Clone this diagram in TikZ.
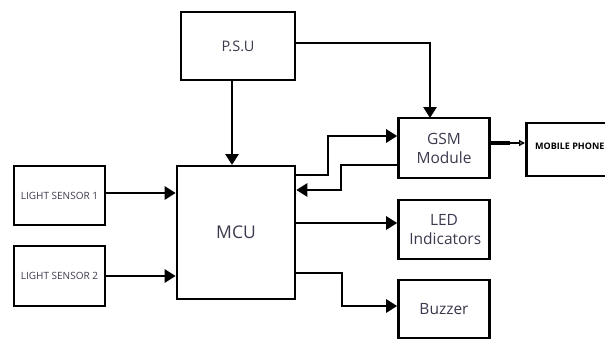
\documentclass[tikz,border=0pt]{standalone}
\usepackage{fontspec}
\setmainfont{Open Sans}
\usetikzlibrary{arrows.meta}
\definecolor{txt}{HTML}{3A3A4E}
\begin{document}
\begin{tikzpicture}[x=1pt,y=-1pt,
  blk/.style={draw=black,line width=2.6pt,rectangle,inner sep=0pt,text=txt,align=center},
  conn/.style={line width=2.6pt,-{Triangle[length=11pt,width=13pt]}}]
\useasboundingbox (0,0) rectangle (605,341);
\clip (0,0) rectangle (605,341);
\node[blk,minimum width=114pt,minimum height=68pt,font=\fontsize{14.5}{16}\selectfont] (psu) at (238,46) {P.S.U};
\node[blk,minimum width=118pt,minimum height=133pt,font=\fontsize{17.5}{20}\selectfont] (mcu) at (236,232.5) {MCU};
\node[blk,minimum width=91pt,minimum height=59pt,font=\fontsize{10}{11}\selectfont] (ls1) at (59.5,195.5) {LIGHT SENSOR 1};
\node[blk,minimum width=91pt,minimum height=60pt,font=\fontsize{10}{11}\selectfont] (ls2) at (59.5,276) {LIGHT SENSOR 2};
\node[blk,minimum width=91pt,minimum height=60pt,font=\fontsize{15.5}{19}\selectfont] (gsm) at (444,148) {GSM\\Module};
\node[blk,minimum width=91pt,minimum height=59pt,font=\fontsize{15.5}{19}\selectfont] (led) at (444,229.5) {LED\\\,Indicators};
\node[blk,minimum width=91pt,minimum height=58pt,font=\fontsize{15.5}{17}\selectfont] (buz) at (444,309) {Buzzer};
\node[blk,minimum width=100pt,minimum height=53pt,anchor=west] (mob) at (525,149.5) {};
\node[anchor=west,inner sep=0pt,font=\fontsize{9}{10}\selectfont\bfseries] (mobt) at (535,146) {MOBILE PHONE};
% PSU connections
\draw[conn] (psu.south -| 232,0) -- (232,165);
\draw[conn] (psu.east |- 0,43) -- (430,43) -- (430,118);
% sensors
\draw[conn] (ls1.east |- 0,193) -- (mcu.west |- 0,193);
\draw[conn] (ls2.east |- 0,276) -- (mcu.west |- 0,276);
% MCU <-> GSM
\draw[conn] (mcu.east |- 0,175) -- (328,175) -- (328,136) -- (gsm.west |- 0,136);
\draw[conn] (gsm.west |- 0,165) -- (341,165) -- (341,190) -- (mcu.east |- 0,190);
% LED, buzzer
\draw[conn] (mcu.east |- 0,223) -- (led.west |- 0,223);
\draw[conn] (mcu.east |- 0,273) -- (342,273) -- (342,306) -- (buz.west |- 0,306);
% GSM -> mobile
\draw[line width=4pt] (gsm.east |- 0,143) -- (510,143);
\draw[line width=1.4pt,-{Triangle[open,length=6pt,width=6pt]}] (508,143) -- (mob.west |- 0,143);
\end{tikzpicture}
\end{document}
